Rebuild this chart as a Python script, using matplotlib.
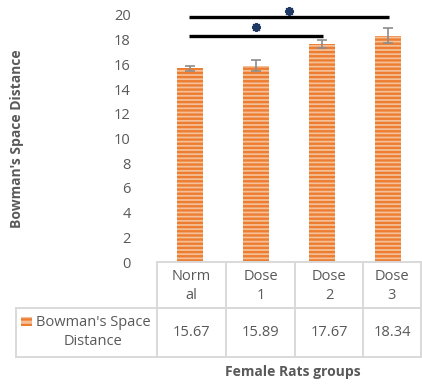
import matplotlib
matplotlib.use("Agg")
import matplotlib.pyplot as plt
from matplotlib.patches import Rectangle
from matplotlib.lines import Line2D

# ---- data ----
categories = ["Norm\nal", "Dose\n1", "Dose\n2", "Dose\n3"]
values = [15.67, 15.89, 17.67, 18.34]
errors = [0.20, 0.43, 0.32, 0.57]
series_name = "Bowman's Space\nDistance"
y_label = "Bowman's Space Distance"
x_label = "Female Rats groups"
yticks = [0, 2, 4, 6, 8, 10, 12, 14, 16, 18, 20]
# significance brackets: (start index, end index, line height, star height)
brackets = [(0, 3, 19.86, 20.3), (0, 2, 18.33, 19.05)]

ORANGE = "#ED7D31"
LIGHT = "#F5BF98"
GRAY_TXT = "#595959"
GRID = "#D9D9D9"
NAVY = "#1F3864"

plt.rcParams["font.family"] = ["Open Sans", "DejaVu Sans"]
plt.rcParams["hatch.linewidth"] = 1.7
plt.rcParams["hatch.color"] = ORANGE

W, H = 422, 385
fig = plt.figure(figsize=(W / 100, H / 100), dpi=100)
ax_l, ax_r, ax_t, ax_b = 157, 421, 15, 262
ax = fig.add_axes([ax_l / W, 1 - ax_b / H, (ax_r - ax_l) / W, (ax_b - ax_t) / H])

x = list(range(len(values)))
ax.bar(x, values, width=0.39, color=LIGHT, edgecolor=ORANGE, hatch="----",
       linewidth=0, zorder=2)
ax.errorbar(x, values, yerr=errors, fmt="none", ecolor="#8C8C8C",
            elinewidth=1.2, capsize=3.4, capthick=1.2, zorder=3)

ax.set_xlim(-0.5, len(values) - 0.5)
ax.set_ylim(0, 20)
ax.set_yticks(yticks)
ax.set_yticklabels([str(t) for t in yticks])
ax.tick_params(axis="y", length=0, pad=19, labelsize=10.5, labelcolor=GRAY_TXT)
ax.set_xticks([])
for s in ["left", "right", "top"]:
    ax.spines[s].set_visible(False)
ax.spines["bottom"].set_color(GRID)
ax.spines["bottom"].set_linewidth(1.4)

# significance brackets with a heavy asterisk above each
for i0, i1, yl, ys in brackets:
    ax.plot([i0 - 0.02, i1 + 0.02], [yl, yl], color="black", lw=2.4,
            clip_on=False, zorder=4, solid_capstyle="butt")
    ax.plot([(i0 + i1) / 2], [ys], marker=(8, 2, 0), markersize=6.5,
            markeredgewidth=1.4, color=NAVY, clip_on=False, zorder=5)

ax.set_ylabel(y_label, fontsize=10, fontweight="bold", color=GRAY_TXT)
ax.yaxis.set_label_coords((24 - ax_l) / (ax_r - ax_l), 0.5)

# ---- data table below the axis (drawn in pixel-based figure coords) ----
def fx(px):
    return px / W

def fy(py):
    return 1 - py / H

col_edges = [157, 226, 295, 363, 421]
row_head = (262, 308)
row_data = (308, 357)
label_left = 16

def hline(x0, x1, y):
    fig.add_artist(Line2D([fx(x0), fx(x1)], [fy(y), fy(y)], color=GRID, lw=1.4))

def vline(xp, y0, y1):
    fig.add_artist(Line2D([fx(xp), fx(xp)], [fy(y0), fy(y1)], color=GRID, lw=1.4))

hline(157, 421, row_head[1])
hline(label_left, 421, row_data[0])
hline(label_left, 421, row_data[1])
for xe in col_edges:
    vline(xe, row_head[0], row_data[1])
vline(label_left, row_data[0], row_data[1])

for i, (cat, v) in enumerate(zip(categories, values)):
    cx = (col_edges[i] + col_edges[i + 1]) / 2
    fig.text(fx(cx), fy((row_head[0] + row_head[1]) / 2 + 1), cat, ha="center",
             va="center", fontsize=10.5, color=GRAY_TXT, linespacing=1.35)
    fig.text(fx(cx), fy((row_data[0] + row_data[1]) / 2), f"{v:.2f}",
             ha="center", va="center", fontsize=10.5, color=GRAY_TXT)

# legend key in the row-label cell
key = Rectangle((fx(21), fy(326)), fx(11), fy(317) - fy(326), transform=fig.transFigure,
                facecolor=LIGHT, edgecolor=ORANGE, hatch="---", linewidth=0)
fig.add_artist(key)
fig.text(fx(93), fy(332), series_name, ha="center", va="center",
         fontsize=10.5, color=GRAY_TXT, linespacing=1.3)

fig.text(fx(293), fy(372), x_label, ha="center", va="center", fontsize=10,
         fontweight="bold", color=GRAY_TXT)

fig.savefig("out.png", dpi=100)
